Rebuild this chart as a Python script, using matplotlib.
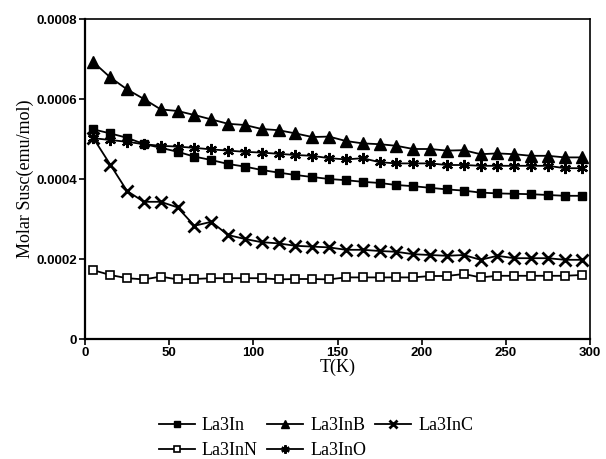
import numpy as np
import matplotlib
matplotlib.use("Agg")
import matplotlib.pyplot as plt
from matplotlib.ticker import FixedLocator

T = [5, 15, 25, 35, 45, 55, 65, 75, 85, 95, 105, 115, 125, 135, 145,
     155, 165, 175, 185, 195, 205, 215, 225, 235, 245, 255, 265, 275, 285, 295]

la3in = [5.24, 5.14, 5.03, 4.875, 4.78, 4.68, 4.56, 4.475, 4.375, 4.31, 4.225, 4.16, 4.1, 4.05,
         4.0, 3.97, 3.93, 3.9, 3.85, 3.82, 3.78, 3.74, 3.71, 3.66, 3.64, 3.63, 3.62, 3.6, 3.58, 3.58]
la3inb = [6.92, 6.54, 6.24, 6.0, 5.74, 5.7, 5.6, 5.49, 5.38, 5.35, 5.25, 5.22, 5.14, 5.05,
          5.06, 4.95, 4.89, 4.87, 4.83, 4.75, 4.75, 4.71, 4.72, 4.62, 4.64, 4.62, 4.58, 4.58, 4.54, 4.54]
la3inc = [5.02, 4.36, 3.7, 3.43, 3.43, 3.29, 2.83, 2.93, 2.6, 2.5, 2.42, 2.39, 2.33, 2.31,
          2.29, 2.23, 2.23, 2.2, 2.18, 2.12, 2.1, 2.08, 2.1, 1.98, 2.08, 2.02, 2.02, 2.02, 1.98, 1.98]
la3inn = [1.72, 1.6, 1.52, 1.49, 1.56, 1.49, 1.5, 1.52, 1.52, 1.52, 1.52, 1.49, 1.5, 1.5,
          1.49, 1.54, 1.54, 1.54, 1.54, 1.54, 1.575, 1.575, 1.625, 1.54, 1.58, 1.58, 1.58, 1.58, 1.58, 1.6]
la3ino = [5.02, 4.975, 4.93, 4.87, 4.83, 4.81, 4.78, 4.74, 4.71, 4.68, 4.66, 4.63, 4.6, 4.58,
          4.52, 4.49, 4.52, 4.42, 4.39, 4.39, 4.39, 4.35, 4.35, 4.33, 4.33, 4.33, 4.33, 4.33, 4.27, 4.27]

scale = 1e-4
yticks = [0, 0.0002, 0.0004, 0.0006, 0.0008]
ytick_labels = ["0", "0.0002", "0.0004", "0.0006", "0.0008"]
xticks = [0, 50, 100, 150, 200, 250, 300]

fig = plt.figure(figsize=(6.06, 4.59), dpi=100)
ax = fig.add_axes([85/606, 1-339/459, 505/606, 320/459])

sans = "Liberation Sans"
serif = "Liberation Serif"

kw = dict(color="black", lw=1.3)
h1, = ax.plot(T, np.array(la3in)*scale, marker="s", ms=6, mfc="black", mec="black", label="La3In", **kw)
h2, = ax.plot(T, np.array(la3inb)*scale, marker="^", ms=8, mfc="black", mec="black", label="La3InB", **kw)
h3, = ax.plot(T, np.array(la3inc)*scale, marker="x", ms=8, mew=2.0, mec="black", label="La3InC", **kw)
h4, = ax.plot(T, np.array(la3inn)*scale, marker="s", ms=6, mfc="white", mec="black", mew=1.2, label="La3InN", **kw)
h5, = ax.plot(T, np.array(la3ino)*scale, marker=(6, 2, 0), ms=8, mew=1.6, mec="black", label="La3InO", **kw)

ax.set_xlim(0, 300)
ax.set_ylim(0, 0.0008)
ax.xaxis.set_major_locator(FixedLocator(xticks))
ax.yaxis.set_major_locator(FixedLocator(yticks))
ax.set_yticklabels(ytick_labels)
ax.tick_params(direction="out", length=4, width=1.2, labelsize=9.5, pad=1.5)
for lab in ax.get_xticklabels() + ax.get_yticklabels():
    lab.set_fontfamily(sans)
    lab.set_fontweight("bold")
for s in ax.spines.values():
    s.set_linewidth(1.2)
ax.spines["left"].set_linewidth(1.6)
ax.spines["bottom"].set_linewidth(1.6)

ax.set_xlabel("T(K)", fontsize=13, fontfamily=serif, labelpad=0)
ax.set_ylabel("Molar Susc(emu/mol)", fontsize=13, fontfamily=serif, labelpad=2)

handles = [h1, h4, h2, h5, h3]
labels = [h.get_label() for h in handles]
leg = fig.legend(handles, labels, ncol=3, loc="center", bbox_to_anchor=(316/606, 1-438/459),
                 frameon=False, prop={"family": serif, "size": 13}, handlelength=2.0,
                 columnspacing=0.5, handletextpad=0.4, labelspacing=0.45, markerscale=0.75)

fig.savefig("out.png", dpi=100)
